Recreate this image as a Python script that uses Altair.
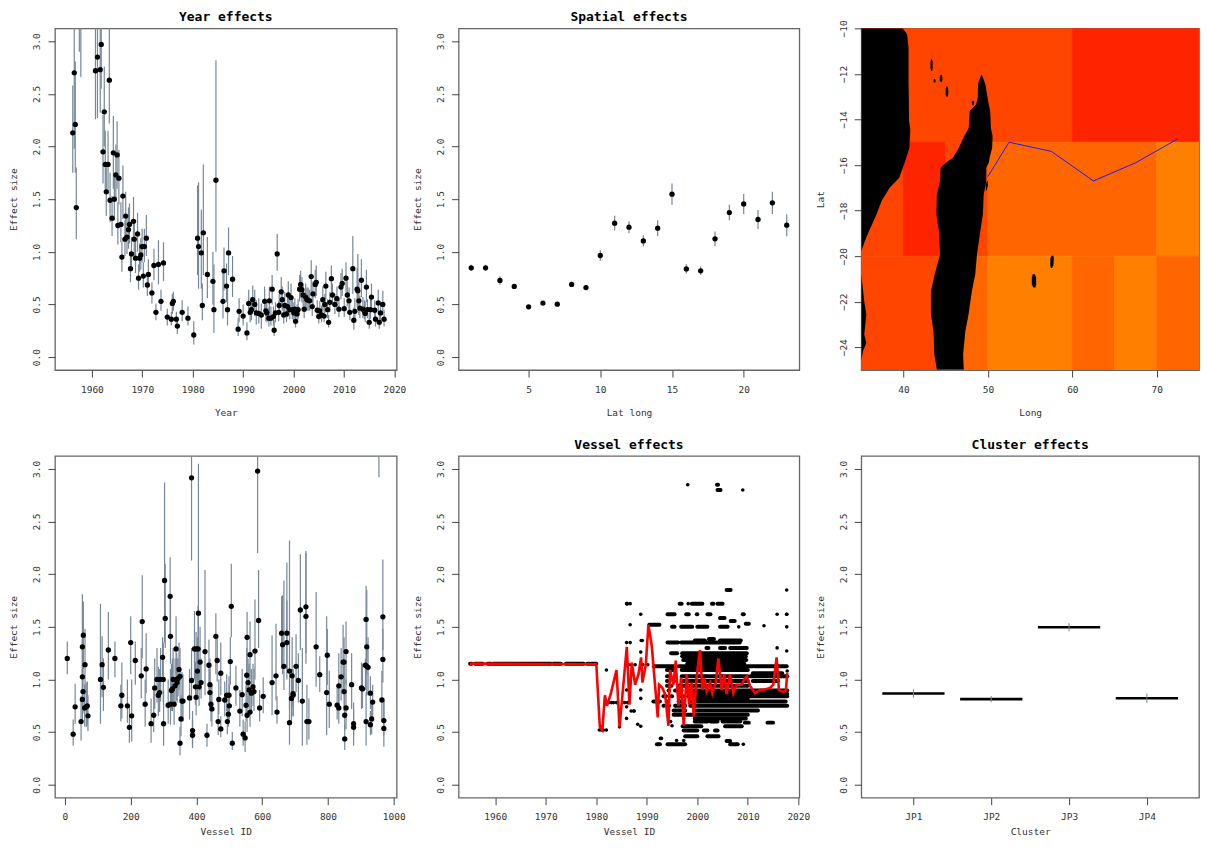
import altair as alt
import pandas as pd

FONT = "DejaVu Sans Mono"
CI = "#778899"

# (year, estimate, lower, upper)
year_rows = [
(1956.2,2.13,1.75,2.58),(1956.5,2.70,1.98,3.3),(1956.7,2.21,1.75,2.81),(1956.9,1.42,1.12,1.80),
(1957.5,3.4,2.9,4),(1957.8,3.4,2.66,4),
(1960.7,2.72,2.26,3.5),(1961.1,2.85,2.27,3.5),(1961.65,2.73,2.32,3.3),(1961.85,2.97,2.55,3.4),
(1962.2,1.95,1.65,2.3),(1962.45,2.33,2.0,2.76),(1962.65,1.83,1.55,2.15),(1962.85,1.57,1.34,1.84),
(1963.2,1.83,1.55,2.15),(1963.45,2.63,2.22,3.2),(1963.6,1.49,1.28,1.75),(1964.0,1.32,1.15,1.53),
(1964.25,1.94,1.6,2.29),(1964.45,1.50,1.3,1.73),(1964.75,1.73,1.48,2.02),(1965.0,1.92,1.6,2.24),
(1965.15,1.25,1.07,1.47),(1965.35,1.70,1.45,1.97),(1965.75,1.26,1.09,1.47),(1965.95,0.95,0.81,1.1),
(1966.15,1.53,1.31,1.82),(1966.55,1.12,0.96,1.3),(1966.7,1.34,1.14,1.57),(1966.95,1.14,0.98,1.32),
(1967.25,1.21,1.03,1.42),(1967.45,1.26,1.08,1.46),(1967.65,0.84,0.71,1.0),(1967.85,0.98,0.84,1.14),
(1968.25,1.29,1.1,1.52),(1968.4,1.12,0.96,1.3),(1968.65,0.94,0.8,1.1),(1969.05,1.17,1.0,1.37),
(1969.25,0.75,0.64,0.88),(1969.45,0.94,0.81,1.08),(1969.7,0.97,0.83,1.13),(1969.95,1.05,0.9,1.22),
(1970.2,0.77,0.66,0.9),(1970.4,1.05,0.9,1.22),(1970.8,1.13,0.96,1.35),(1971,0.685,0.58,0.8),
(1971.2,0.785,0.66,0.93),(1971.9,0.61,0.51,0.71),(1972.3,0.87,0.73,1.03),(1972.7,0.425,0.35,0.51),
(1973.2,0.88,0.69,1.11),(1973.7,0.53,0.44,0.64),(1974.2,0.895,0.72,1.09),(1974.95,0.38,0.3,0.46),
(1975.75,0.36,0.3,0.43),(1975.95,0.51,0.41,0.6),(1976.15,0.53,0.44,0.62),(1976.75,0.36,0.3,0.43),
(1976.95,0.295,0.22,0.36),(1977.9,0.425,0.34,0.54),(1979.05,0.37,0.3,0.48),(1980.2,0.21,0.12,0.34),
(1980.95,1.13,0.78,1.63),(1981.15,1.05,0.65,1.66),(1981.7,0.99,0.65,1.4),(1981.9,0.49,0.35,0.7),
(1982.1,1.18,0.78,1.83),(1982.9,0.785,0.56,1.14),(1984,0.72,0.5,1.0),(1984.2,0.45,0.23,0.88),
(1984.6,1.68,1.0,2.82),(1986,0.53,0.37,0.82),(1986.2,0.82,0.63,1.04),(1986.7,0.675,0.52,0.89),
(1986.9,0.45,0.3,0.67),(1987.1,0.99,0.78,1.23),(1987.9,0.74,0.57,0.96),(1989,0.265,0.2,0.37),
(1989.2,0.435,0.33,0.56),(1990,0.39,0.3,0.5),(1990.75,0.23,0.16,0.33),(1991.1,0.51,0.4,0.64),
(1991.4,0.425,0.33,0.55),(1991.65,0.45,0.35,0.57),(1991.9,0.545,0.43,0.68),(1992.3,0.50,0.39,0.64),
(1992.6,0.42,0.31,0.54),(1993.1,0.415,0.32,0.56),(1993.6,0.40,0.27,0.51),(1994.25,0.53,0.41,0.67),
(1994.5,0.44,0.34,0.56),(1994.7,0.42,0.33,0.53),(1995.1,0.37,0.29,0.47),(1995.2,0.535,0.42,0.67),
(1995.5,0.37,0.3,0.48),(1995.75,0.645,0.5,0.78),(1996,0.385,0.3,0.48),(1996.15,0.255,0.2,0.35),
(1996.4,0.42,0.33,0.52),(1996.75,0.98,0.82,1.17),(1997.05,0.425,0.34,0.53),(1997.15,0.49,0.4,0.6),
(1997.55,0.62,0.5,0.76),(1997.75,0.545,0.44,0.67),(1998.05,0.40,0.32,0.5),(1998.25,0.49,0.38,0.62),
(1998.6,0.41,0.33,0.51),(1998.8,0.48,0.38,0.6),(1998.95,0.59,0.48,0.72),(1999.25,0.45,0.36,0.56),
(1999.5,0.565,0.45,0.7),(1999.75,0.45,0.36,0.55),(2000.05,0.42,0.33,0.52),(2000.25,0.455,0.37,0.56),
(2000.4,0.34,0.28,0.43),(2000.7,0.41,0.33,0.5),(2000.9,0.45,0.36,0.55),(2001.2,0.645,0.53,0.78),
(2001.4,0.69,0.56,0.82),(2001.65,0.64,0.52,0.76),(2001.9,0.59,0.48,0.7),(2002.1,0.455,0.37,0.56),
(2002.4,0.57,0.46,0.7),(2002.65,0.545,0.44,0.66),(2002.9,0.54,0.44,0.66),(2003.2,0.535,0.44,0.64),
(2003.5,0.765,0.62,0.92),(2003.7,0.48,0.39,0.57),(2003.85,0.60,0.49,0.72),(2004.3,0.69,0.56,0.83),
(2004.5,0.71,0.58,0.87),(2004.7,0.445,0.37,0.54),(2005.0,0.385,0.32,0.47),(2005.2,0.44,0.36,0.53),
(2005.55,0.40,0.33,0.49),(2005.8,0.545,0.44,0.67),(2006.05,0.39,0.33,0.48),(2006.2,0.50,0.42,0.6),
(2006.4,0.675,0.55,0.81),(2006.75,0.45,0.37,0.55),(2006.95,0.33,0.28,0.4),(2007.2,0.52,0.43,0.62),
(2007.5,0.745,0.62,0.87),(2007.7,0.59,0.49,0.7),(2008.2,0.50,0.41,0.6),(2008.6,0.555,0.46,0.67),
(2009,0.455,0.38,0.55),(2009.4,0.665,0.55,0.8),(2009.65,0.70,0.58,0.84),(2010.05,0.46,0.38,0.56),
(2010.4,0.75,0.62,0.9),(2010.65,0.59,0.48,0.72),(2011,0.535,0.43,0.66),(2011.15,0.425,0.35,0.52),
(2011.75,0.84,0.6,1.15),(2011.95,0.35,0.26,0.47),(2012.15,0.435,0.33,0.56),(2012.6,0.645,0.48,0.85),
(2012.75,0.63,0.47,0.98),(2012.95,0.535,0.4,0.71),(2013.15,0.465,0.37,0.58),(2013.45,0.73,0.57,0.93),
(2013.75,0.455,0.37,0.57),(2014.05,0.435,0.36,0.54),(2014.2,0.415,0.33,0.53),(2014.45,0.665,0.52,0.83),
(2014.65,0.45,0.37,0.55),(2015,0.33,0.27,0.42),(2015.25,0.45,0.36,0.55),(2015.45,0.57,0.46,0.7),
(2016.1,0.445,0.37,0.54),(2016.25,0.36,0.29,0.44),(2016.8,0.515,0.41,0.64),(2017,0.33,0.27,0.41),
(2017.25,0.42,0.34,0.51),(2017.7,0.50,0.4,0.63),(2017.95,0.36,0.29,0.45),
]

spatial_est = [0.848,0.848,0.728,0.671,0.478,0.513,0.503,0.69,0.66,0.965,1.272,1.234,1.104,1.225,1.548,0.838,0.82,1.123,1.373,1.455,1.307,1.465,1.253]
spatial_err = [0.03,0.03,0.04,0.02,0.015,0.015,0.015,0.025,0.02,0.05,0.07,0.057,0.054,0.076,0.1,0.044,0.04,0.07,0.073,0.095,0.09,0.105,0.105]
spatial_id = [1,2,3,4,5,6,7,8,9,10,11,12,13,14,15,16,17,18,19,20,21,22,23]

cell_lon0 = [35,60, 35,40,45,50,70, 35,45,50,60,65,70]
cell_lon1 = [60,75, 40,45,50,70,75, 45,50,60,65,70,75]
cell_lat0 = [-15,-15, -20,-20,-20,-20,-20, -25,-25,-25,-25,-25,-25]
cell_lat1 = [-10,-10, -15,-15,-15,-15,-15, -20,-20,-20,-20,-20,-20]
cell_col = ["#FF4500","#FF2400","#FF4500","#FF2400","#FF4500","#FF6600","#FF8000",
            "#FF4500","#FF6600","#FF8000","#FF6600","#FF8000","#FF6600"]

# land: lat, west lon, east lon
land_africa_n = [(-10,35,39.9),(-10.26,35,40.43),(-10.85,35,40.6),(-12.3,35,40.6),(-14.07,35,40.66),(-14.44,35,40.8),
                 (-15.24,35,40.7),(-15.83,35,40.2),(-16.56,35,39.5),(-17.0,35,38.36),(-17.58,35,37.4),(-18.17,35,36.8),
                 (-18.83,35,36.0),(-19.34,35,35.43),(-19.78,35,35.0)]
land_africa_s = [(-20.8,35,35.0),(-21.98,35,35.35),(-22.56,35,35.6),(-23.44,35,35.35),(-23.8,35,35.6),(-24.17,35,35.2),(-24.6,35,35)]
land_madagascar = [(-12.06,49.18,49.3),(-12.46,48.83,49.7),(-13.05,48.8,49.96),(-13.34,48.6,50.1),(-13.63,47.85,50.27),
                   (-14.37,47.73,50.35),(-14.73,47.2,50.55),(-15.24,46.56,50.5),(-15.68,45.86,50.2),(-15.9,45.0,50.1),
                   (-16.12,44.4,49.8),(-16.71,44.33,49.8),(-17.29,43.95,49.5),(-18.17,43.9,49.4),(-18.9,44.2,49.1),
                   (-19.93,44.33,48.7),(-20.8,43.7,48.5),(-21.54,43.25,48.1),(-22.56,43.25,47.7),(-23.29,43.55,47.33),
                   (-24.32,43.65,47.06),(-24.98,43.95,47.14)]
land_islands = [
 [(-11.36,43.28,43.38),(-11.45,43.2,43.45),(-11.75,43.2,43.45),(-11.87,43.28,43.4)],
 [(-12.22,43.6,43.75),(-12.3,43.55,43.82),(-12.38,43.6,43.75)],
 [(-12.05,44.4,44.55),(-12.15,44.3,44.6),(-12.28,44.3,44.6),(-12.36,44.42,44.52)],
 [(-12.55,45.08,45.22),(-12.65,45.0,45.3),(-12.9,45.0,45.3),(-13.0,45.1,45.22)],
 [(-19.98,57.55,57.75),(-20.08,57.4,57.8),(-20.4,57.38,57.75),(-20.52,57.45,57.6)],
 [(-20.8,55.3,55.55),(-20.92,55.2,55.7),(-21.25,55.2,55.72),(-21.38,55.38,55.62)],
 [(-13.18,48.18,48.3),(-13.25,48.1,48.36),(-13.38,48.18,48.3)],
 [(-16.7,49.88,50.0),(-16.9,49.75,50.0),(-17.12,49.75,49.85)],
]

route_lon = [50,52.5,57.5,62.5,67.5,72.5]
route_lat = [-16.5,-15,-15.4,-16.7,-15.9,-14.85]

# (vessel id, estimate, lower, upper)
vessel_rows = [
(7,1.20,1.05,1.36),(25,.48,.37,.62),(31,.74,.58,.96),(49,.60,.42,.84),(53,.81,.6,1.1),(53,1.025,.77,1.38),(53,1.31,1.0,1.81),
(55,.885,.68,1.15),(56,1.42,1.1,1.74),(60,.73,.55,.95),(61,1.14,.87,1.48),(65,.74,.55,.97),(68,.75,.56,.98),(70,.655,.51,.85),
(108,1.0,.58,1.72),(113,1.14,.83,1.41),(117,.925,.7,1.2),(132,1.28,1.0,1.64),(152,1.20,1.02,1.36),(170,.75,.6,.95),(173,.85,.63,1.16),
(190,.75,.59,1.0),(196,.545,.4,.75),(200,1.35,1.05,1.6),(203,.655,.41,1.0),(214,1.18,.95,1.36),(232,1.035,.82,1.3),(235,1.55,1.2,1.99),
(244,.765,.55,1.0),(247,1.10,.87,1.44),(262,.58,.4,.82),(270,.66,.5,.92),(273,.92,.72,1.2),(280,1.0,.78,1.3),(284,.85,.65,1.12),
(288,.875,.69,1.1),(291,1.0,.79,1.3),(297,1.21,1.03,1.4),(299,1.0,.78,1.35),(300,.58,.37,.9),(303,1.94,1.35,2.87),(305,1.58,1.3,2.1),
(314,.755,.58,1.0),(320,1.79,1.4,2.16),(321,1.41,1.15,1.78),(321,.765,.57,1.1),(324,.895,.7,1.15),(327,.91,.7,1.2),(329,1.0,.79,1.3),
(332,.765,.57,1.0),(335,.94,.75,1.2),(338,1.29,1.05,1.6),(340,1.0,.8,1.25),(341,.97,.78,1.2),(344,1.01,.84,1.2),(347,1.095,.9,1.35),
(350,1.03,.8,1.3),(350,.395,.28,.55),(353,.625,.46,.85),(356,.795,.6,1.07),(359,.795,.6,1.05),(379,.825,.62,1.1),(385,2.915,2.13,4),
(385,.99,.8,1.3),(388,.515,.38,.7),(388,.47,.35,.62),(394,1.29,1.0,1.65),(397,.93,.76,1.17),(399,.83,.66,1.05),(399,1.29,1.0,1.45),
(403,1.08,.84,1.4),(405,1.29,.98,1.7),(406,1.63,.98,3.05),(408,.93,.75,1.2),(411,1.165,.9,1.5),(414,.97,.82,1.2),(426,1.265,.85,2.04),
(432,.47,.36,.58),(438,1.135,.9,1.38),(441,.95,.75,1.2),(441,.875,.7,1.1),(444,.765,.6,.95),(447,.72,.55,.95),(459,1.41,1.05,1.63),
(463,1.18,.98,1.42),(466,.60,.47,.8),(468,.81,.67,1.0),(474,1.06,.85,1.35),(474,.53,.45,.65),(486,.805,.65,.98),(492,.85,.7,1.05),
(494,.60,.48,.76),(497,.67,.55,.85),(499,.85,.68,1.03),(500,.75,.62,.95),(503,1.17,.95,1.4),(506,1.695,1.4,2.1),(509,.395,.33,.5),
(520,.92,.75,1.13),(532,.70,.55,.9),(539,.855,.65,1.1),(542,.48,.37,.62),(548,.445,.31,.6),(551,.755,.6,.95),(553,1.04,.85,1.3),
(554,1.40,1.05,1.64),(554,.66,.5,.85),(557,.97,.78,1.2),(560,.90,.72,1.15),(563,1.235,1.0,1.55),(563,.69,.55,.9),(567,.87,.7,1.1),
(572,.93,.75,1.15),(575,.885,.7,1.1),(578,1.27,1.0,1.76),(586,2.98,2.2,4),(589,1.56,1.3,2.04),(592,.73,.6,.9),(603,.84,.68,1.02),
(630,.97,.66,1.42),(642,1.035,.8,1.53),(645,.69,.58,.84),(659,1.44,1.1,1.79),(662,1.33,1.05,1.8),(666,1.125,.9,1.94),(675,1.44,1.1,2.11),
(675,1.35,1.0,1.75),(683,.59,.38,.89),(683,1.08,.72,2.32),(689,.82,.6,1.1),(691,1.035,.75,1.4),(694,.85,.65,1.1),(694,.865,.65,1.1),
(703,1.125,.88,1.43),(710,.99,.78,1.25),(716,1.66,1.28,2.19),(722,.795,.37,1.3),(733,1.69,1.25,2.22),(733,1.6,1.15,2.2),(736,.60,.38,.95),
(742,.60,.43,.82),(764,1.31,.93,1.83),(775,1.045,.88,1.22),(796,.875,.47,1.6),(798,1.23,.95,1.48),(804,.765,.54,1.08),(828,.755,.62,.92),
(833,.73,.58,.92),(833,.94,.75,1.25),(840,1.025,.8,1.3),(846,1.165,.9,1.52),(849,1.165,.85,1.4),(849,.885,.7,1.18),(851,.66,.52,.87),
(851,.435,.33,.57),(855,1.265,.95,1.55),(855,.73,.53,1.0),(872,.95,.72,1.25),(878,.58,.47,.72),(878,.545,.37,.78),(902,.92,.72,1.16),
(905,.91,.73,1.15),(914,1.135,.9,1.2),(916,1.57,1.2,1.89),(916,.60,.37,.88),(918,1.31,1.05,1.85),(918,1.125,.85,1.35),(922,1.115,.85,1.4),
(929,.87,.72,1.03),(929,.57,.47,.7),(933,.625,.48,.8),(936,.785,.62,.95),(964,.805,.6,1.08),(967,1.595,1.28,2.14),(967,1.19,.97,1.48),
(970,.61,.47,.82),(970,.535,.36,.8),(955,3.5,2.92,4),
]

# bottom-centre panel: rows of overlapping dots (val, first year, last year)
dot_runs = [
(1.15,1955,1955.3),(1.15,1956,1957.5),(1.15,1958.5,1959.2),(1.15,1959.6,1971),(1.15,1971.5,1973),(1.15,1974,1977.5),(1.15,1978.2,1978.6),(1.15,1979,1980),
(2.80,2004,2004.6),(2.85,2003.9,2004.1),(1.85,2005.8,2006.6),(1.72,1986.1,1986.1),(1.72,1996.5,1996.9),(1.72,1998.9,2001),(1.72,2002.9,2003.2),(1.72,2004,2005),
(1.62,1994.1,1995.5),(1.62,1997.8,1998.3),(1.62,1999.9,2000),(1.62,2002,2002.6),(1.62,2009,2009.2),
(1.585,2004.5,2005.4),(1.555,2006.6,2007.4),(1.52,1990.5,1992.5),(1.53,2009.6,2010.2),
(1.50,1995,1995.5),(1.50,1996.8,1999),(1.50,2000,2002),(1.50,2004.5,2006),
(1.385,2002.3,2003.3),(1.37,1999.5,2001.5),(1.37,2004.5,2008.6),(1.35,1994.1,1996.2),(1.35,1996.8,2008.4),
(1.30,2001.8,2002.2),(1.30,2004.5,2005.5),(1.30,2006.5,2009.8),(1.25,1994.8,1996),(1.25,1997,2009.8),
(1.22,1997,2009.6),(1.185,1997.2,2009.7),(1.15,1998,2009.3),
(1.125,1991.4,1995.3),(1.125,1996.3,2011),(1.125,2011.3,2017.7),
(1.09,1994,1995.3),(1.09,1996.9,2010),(1.06,2011,2016.8),
(1.03,1994,1994.6),(1.03,1995.6,1995.7),(1.03,1996.9,2010),(1.03,2010.5,2017.8),
(0.985,1994,1994.1),(0.985,1995.3,1995.4),(0.985,1997.2,2010),(0.985,2011,2016),
(0.94,1994,1994.9),(0.94,1996.3,2010),
(0.895,1994.3,1994.4),(0.895,1995.6,1996.9),(0.895,1997.9,2017.8),
(0.865,1999.2,2017.8),(0.84,1993.3,1993.6),(0.84,1994.9,1995),(0.84,1996.6,1997.2),(0.84,1998.2,2017.8),
(0.815,1999.5,2010),(0.79,1991.3,1992.6),(0.79,1994,1994.1),(0.79,1996.3,1997.2),(0.79,1998.6,2017.5),
(0.75,1993.3,1993.4),(0.75,1994.3,1994.4),(0.75,1995.6,1997.6),(0.75,1998.6,2017.8),
(0.705,1995.3,1997.6),(0.705,1999.5,2012),(0.665,1995.3,1996.9),(0.665,1997.9,2010),(0.63,1999.5,2009.6),
(0.60,1999.5,2002),(0.60,2002.6,2004),(0.60,2005,2008.5),(0.59,2013.9,2015),(0.59,2009.4,2010.2),
(0.555,1997.1,2000.8),(0.555,2005.5,2008.8),
(0.515,1997.3,2000),(0.515,2001.3,2002),(0.515,2003.5,2004),(0.46,1997.6,2000),(0.46,2002,2004.2),(0.415,2005.8,2006.5),
(0.385,1992,1992.6),(0.385,1994.1,1997.6),(0.385,2006.5,2008),
]
# isolated dots (year, val)
dot_year = [1998.1,2009,2017.7,1986.7,1998.2,1988.8,2015.8,2017.7,1986.7,2013.2,2017.7,2008.2,
            1980.6,1981,1981.4,1982,1980.9,1982.1,1982.5,1983,1983.4,1984,1982,1984.6,
            1986,1986,1986.2,1986,1985.6,1986.4,1986,1986.4,1986,1986.7,1987,1987.7,1987.5,1988.8,1988.8,1988.8,
            1986.9,1987.4,1988.2,1989.2,1990.2,1988.8,1988.9,1989.1,1986,1992.7,1992.9,1993.9,1994,
            1994.7,1995,1995.9,1997.3,2009.1,2015.8,2017.7,2017.8,2017.7]
dot_val = [2.85,2.80,1.85,1.72,1.72,1.62,1.62,1.62,1.52,1.51,1.50,1.50,
           .52,.52,.52,.52,.55,.78,.78,.78,.78,.78,1.09,.55,
           .63,.74,.78,.90,.78,.78,1.14,1.14,1.35,1.35,1.14,1.14,.70,.555,.82,.90,
           .70,.70,.575,1.14,1.14,1.26,1.37,1.37,1.72,.44,.44,.84,.75,
           .60,.56,.42,.42,.385,1.30,1.27,1.08,1.62]

red_year = [1955,1980,1980.7,1981.2,1981.7,1982.1,1982.9,1984,1984.6,1986.04,1986.57,1987.03,1987.69,1988.35,1988.87,1989.14,1989.8,
            1990.32,1990.98,1992.17,1992.43,1993.09,1993.62,1994.28,1994.61,1995.27,1995.73,1996.26,1996.78,1997.31,1997.9,1998.37,1998.89,
            1999.29,1999.88,2000.54,2001,2001.4,2001.86,2002.52,2002.98,2003.64,2004.17,2004.82,2005.35,2005.81,2006.47,2007.13,2007.79,
            2008.78,2009.31,2009.77,2010.43,2011.42,2012.4,2013.4,2014.4,2015.04,2015.7,2016.16,2017.02,2017.55,2017.8]
red_val = [1.15,1.145,.55,.52,.85,.75,.87,1.09,.55,1.31,.76,1.16,.95,1.05,1.21,.97,1.14,
           1.52,1.32,.64,.95,.92,.86,.56,1.09,.95,1.18,.75,1.02,.56,1.05,.76,.97,
           .65,1.03,1.28,.90,1.01,.89,.97,.87,.97,1.20,.90,1.05,.86,1.05,.87,.95,
           .95,1.0,1.03,.94,.87,.90,.905,.92,.95,1.21,.90,.88,.90,1.06]

clusters = ["JP1","JP2","JP3","JP4"]
cluster_pos = [1,2,3,4]
cluster_est = [0.867,0.813,1.496,0.822]
cluster_err = [0.04,0.03,0.04,0.045]

Y_TICKS = [0,0.5,1,1.5,2,2.5,3]
YDOM = [-0.123,3.123]
BOTTOM_TITLE_PAD = 5
THIRD_W = 338


def axis(title, values, orient, **kw):
    base = dict(title=title, values=values, grid=False, domain=False, tickSize=7, tickColor="#444", tickWidth=1,
                labelFont=FONT, labelFontSize=9.5, labelColor="#333", titleFont=FONT, titleFontSize=9.5,
                titleColor="#333", titleFontWeight="normal", labelOverlap=False, labelFlush=False)
    if orient == "left":
        base.update(labelAngle=270, labelAlign="center", labelBaseline="bottom", labelPadding=6, titlePadding=13)
    else:
        base.update(labelPadding=7, titlePadding=14)
    base.update(kw)
    return alt.Axis(**base)


def yscale():
    return alt.Scale(domain=YDOM, nice=False, zero=False)


def yaxis():
    return axis("Effect size", Y_TICKS, "left", format=".1f")


def ttl(t):
    return alt.TitleParams(t, font=FONT, fontSize=13, fontWeight="bold", color="black", offset=4, anchor="middle")


def xy_ci(df, xdom, xaxis_obj, title=None, w=342):
    xs = alt.Scale(domain=xdom, nice=False, zero=False)
    r = alt.Chart(df).mark_rule(color=CI, strokeWidth=1.2, clip=True).encode(
        x=alt.X("x:Q", scale=xs, axis=xaxis_obj),
        y=alt.Y("lo:Q", scale=yscale(), axis=yaxis()),
        y2="hi:Q")
    p = alt.Chart(df).mark_circle(color="black", size=28, opacity=1, clip=True).encode(
        x=alt.X("x:Q", scale=xs, axis=xaxis_obj),
        y=alt.Y("est:Q", scale=yscale(), axis=yaxis()))
    c = alt.layer(r, p).properties(width=w, height=342)
    return c.properties(title=ttl(title)) if title else c


yr = pd.DataFrame(year_rows, columns=["x", "est", "lo", "hi"])
year_ticks = [1960,1970,1980,1990,2000,2010,2020]
p1 = xy_ci(yr, [1952.67,2020.45], axis("Year", year_ticks, "bottom", format="d"), "Year effects", 342)

sp = pd.DataFrame({"x": spatial_id, "est": spatial_est,
                   "lo": [a-b for a, b in zip(spatial_est, spatial_err)],
                   "hi": [a+b for a, b in zip(spatial_est, spatial_err)]})
p2 = xy_ci(sp, [0.12,23.88], axis("Lat long", [5,10,15,20], "bottom", format="d"), "Spatial effects", 341)

# map
cells = pd.DataFrame({"a": cell_lon0, "b": cell_lon1, "c": cell_lat0, "d": cell_lat1, "col": cell_col})
mx = alt.Scale(domain=[35,75], nice=False, zero=False)
my = alt.Scale(domain=[-25,-10], nice=False, zero=False)
ax_long = axis("Long", [40,50,60,70], "bottom", format="d")
ax_lat = axis("Lat", [-10,-12,-14,-16,-18,-20,-22,-24], "left", format="d")
m_cells = alt.Chart(cells).mark_rect(strokeWidth=0.8, clip=True).encode(
    x=alt.X("a:Q", scale=mx, axis=ax_long), x2="b:Q",
    y=alt.Y("c:Q", scale=my, axis=ax_lat), y2="d:Q",
    color=alt.Color("col:N", scale=None),
    stroke=alt.Stroke("col:N", scale=None))
land_layers = []
for rows in [land_africa_n, land_africa_s, land_madagascar] + land_islands:
    ldf = pd.DataFrame(rows, columns=["lat", "west", "east"])
    land_layers.append(
        alt.Chart(ldf).mark_area(orient="horizontal", color="black", clip=True).encode(
            x=alt.X("west:Q", scale=mx, axis=ax_long), x2="east:Q",
            y=alt.Y("lat:Q", scale=my, axis=ax_lat)))
m_route = alt.Chart(pd.DataFrame({"lon": route_lon, "lat": route_lat})).mark_line(color="#1a1aff", strokeWidth=1, clip=True).encode(
    x=alt.X("lon:Q", scale=mx, axis=ax_long),
    y=alt.Y("lat:Q", scale=my, axis=ax_lat))
p3 = alt.layer(m_cells, *land_layers, m_route).properties(width=THIRD_W, height=342)

ve = pd.DataFrame(vessel_rows, columns=["x", "est", "lo", "hi"])
p4 = xy_ci(ve, [-30.4,1009], axis("Vessel ID", [0,200,400,600,800,1000], "bottom", format="d", titlePadding=BOTTOM_TITLE_PAD), None, 342)

# bottom centre
xs5 = alt.Scale(domain=[1952.74,2020.2], nice=False, zero=False)
ax5 = axis("Vessel ID", year_ticks, "bottom", format="d", titlePadding=BOTTOM_TITLE_PAD)
runs = pd.DataFrame(dot_runs, columns=["v", "a", "b"])
dots = pd.DataFrame({"x": dot_year, "v": dot_val})
red = pd.DataFrame({"x": red_year, "v": red_val})
l_runs = alt.Chart(runs).mark_rule(color="black", strokeWidth=4, strokeCap="round", clip=True).encode(
    x=alt.X("a:Q", scale=xs5, axis=ax5), x2="b:Q", y=alt.Y("v:Q", scale=yscale(), axis=yaxis()))
l_dots = alt.Chart(dots).mark_circle(color="black", size=13, opacity=1, clip=True).encode(
    x=alt.X("x:Q", scale=xs5, axis=ax5), y=alt.Y("v:Q", scale=yscale(), axis=yaxis()))
l_red = alt.Chart(red).mark_line(color="#ff0000", strokeWidth=2.6, clip=True).encode(
    x=alt.X("x:Q", scale=xs5, axis=ax5), y=alt.Y("v:Q", scale=yscale(), axis=yaxis()))
p5 = alt.layer(l_runs, l_dots, l_red).properties(width=341, height=342, title=ttl("Vessel effects"))

# clusters
xs6 = alt.Scale(domain=[0.33,4.67], nice=False, zero=False)
lbl = "{1:'JP1',2:'JP2',3:'JP3',4:'JP4'}[datum.value]"
ax6 = axis("Cluster", cluster_pos, "bottom", labelExpr=lbl, titlePadding=BOTTOM_TITLE_PAD)
cl = pd.DataFrame({"name": clusters, "p": cluster_pos, "est": cluster_est,
                   "a": [p-0.4 for p in cluster_pos], "b": [p+0.4 for p in cluster_pos],
                   "lo": [e-d for e, d in zip(cluster_est, cluster_err)],
                   "hi": [e+d for e, d in zip(cluster_est, cluster_err)]})
c_bar = alt.Chart(cl).mark_rule(color="black", strokeWidth=2.6).encode(
    x=alt.X("a:Q", scale=xs6, axis=ax6), x2="b:Q", y=alt.Y("est:Q", scale=yscale(), axis=yaxis()))
c_ci = alt.Chart(cl).mark_rule(color=CI, strokeWidth=1).encode(
    x=alt.X("p:Q", scale=xs6, axis=ax6), y=alt.Y("lo:Q", scale=yscale(), axis=yaxis()), y2="hi:Q")
p6 = alt.layer(c_bar, c_ci).properties(width=THIRD_W, height=342, title=ttl("Cluster effects"))

chart = alt.concat(p1, p2, p3, p4, p5, p6, columns=3, spacing=alt.RowColnumber(column=62, row=86),
                   bounds="flush", align="each").properties(
    padding={"left": 0, "right": 0, "top": 2, "bottom": 0}, background="white"
).configure_view(stroke="#666666", strokeWidth=1.3, continuousWidth=342, continuousHeight=342)
chart.save("out.html", embed_options={"renderer": "svg", "actions": False})
